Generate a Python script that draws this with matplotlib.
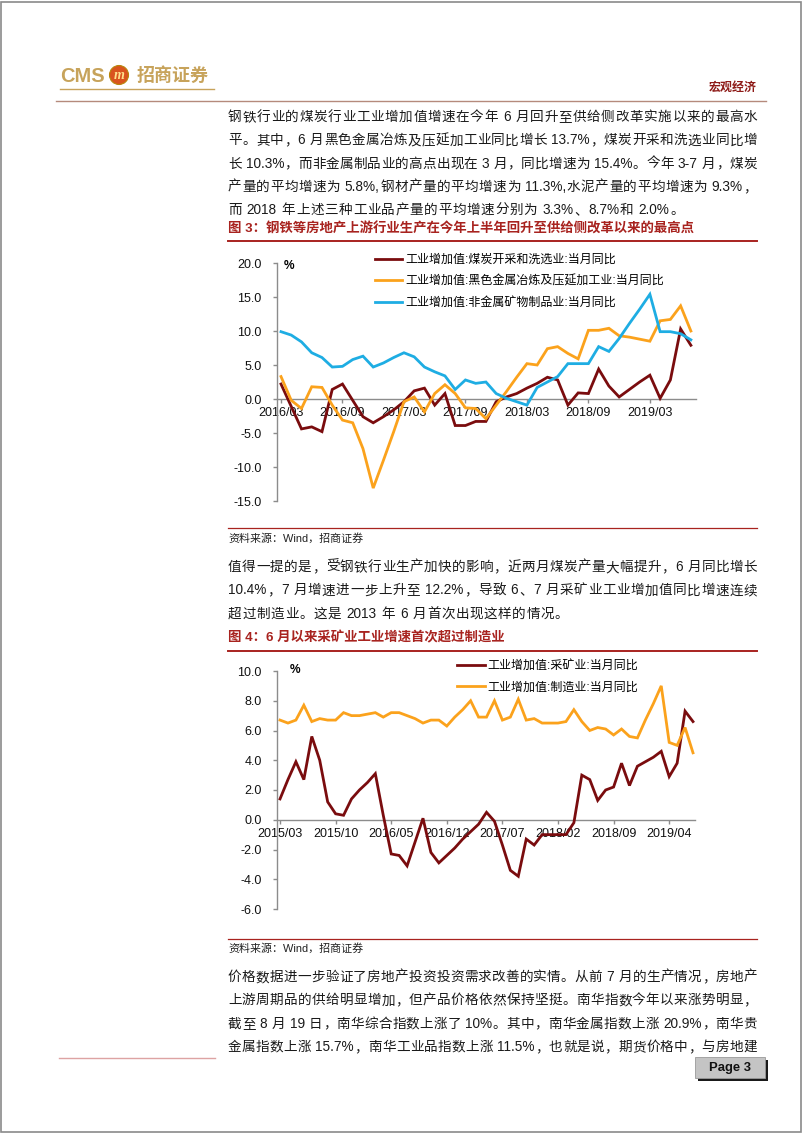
import matplotlib
matplotlib.use("Agg")
import matplotlib.pyplot as plt
from matplotlib.lines import Line2D
from matplotlib.patches import Rectangle, Ellipse

# ---- chart data ----
# Fig 3: monthly, 2016/03 .. 2019/07
fig3_xlabels = ["2016/03", "2016/09", "2017/03", "2017/09", "2018/03", "2018/09", "2019/03"]
fig3_labels = ["工业增加值:煤炭开采和洗选业:当月同比",
               "工业增加值:黑色金属冶炼及压延加工业:当月同比",
               "工业增加值:非金属矿物制品业:当月同比"]
coal = [2.2, -1.1, -4.4, -4.1, -4.8, 1.4, 2.2, -0.2, -2.6, -3.5, -2.6, -1.6, -0.4, 1.2, 1.6,
        -0.9, 0.8, -3.9, -3.9, -3.3, -3.3, -0.4, 0.3, 0.8, 1.6, 2.3, 3.2, 2.8, -0.9, 0.9,
        0.8, 4.4, 1.9, 0.3, 1.4, 2.5, 3.5, 0.1, 2.8, 10.3, 7.9]
ferrous = [3.3, -0.2, -1.4, 1.8, 1.7, -0.9, -3.1, -3.5, -7.3, -13.1, -9.0, -4.8, -0.4, 0.3, -1.9,
           0.8, 2.1, 0.8, -1.3, -1.4, -2.9, -0.9, 1.1, 3.2, 5.2, 5.0, 7.4, 7.7, 6.7, 5.9,
           10.1, 10.1, 10.4, 9.3, 9.1, 8.8, 8.5, 11.5, 11.7, 13.7, 10.0]
nonmetal = [9.9, 9.4, 8.4, 6.8, 6.1, 4.7, 4.8, 5.8, 6.3, 4.7, 5.3, 6.1, 6.8, 6.2, 4.7,
            4.0, 3.4, 1.4, 2.8, 2.3, 2.5, 0.8, 0.1, -0.4, -0.9, 1.7, 2.5, 3.3, 5.2, 5.2,
            5.2, 7.7, 7.0, 8.9, 11.1, 13.2, 15.4, 9.9, 9.9, 9.6, 8.7]

# Fig 4: monthly, 2015/03 .. 2019/07
fig4_xlabels = ["2015/03", "2015/10", "2016/05", "2016/12", "2017/07", "2018/02", "2018/09", "2019/04"]
fig4_labels = ["工业增加值:采矿业:当月同比", "工业增加值:制造业:当月同比"]
mining = [1.4, 2.7, 3.9, 2.7, 5.6, 4.0, 1.2, 0.4, 0.3, 1.4,
          2.0, 2.5, 3.1, 0.3, -2.3, -2.4, -3.1, -1.5, 0.1, -2.2,
          -2.9, -2.4, -1.9, -1.3, -0.8, -0.3, 0.5, -0.1, -1.7, -3.4,
          -3.8, -1.3, -1.7, -1.0, -1.0, -1.0, -1.0, -0.2, 3.0, 2.7,
          1.3, 2.0, 2.2, 3.8, 2.3, 3.6, 3.9, 4.2, 4.6, 2.9,
          3.8, 7.3, 6.6]
manuf = [6.7, 6.5, 6.7, 7.7, 6.6, 6.8, 6.7, 6.7, 7.2, 7.0,
         7.0, 7.1, 7.2, 6.9, 7.2, 7.2, 7.0, 6.8, 6.5, 6.7,
         6.7, 6.3, 6.9, 7.4, 8.0, 6.9, 6.9, 8.0, 6.7, 6.9,
         8.1, 6.7, 6.8, 6.5, 6.5, 6.5, 6.6, 7.4, 6.6, 6.0,
         6.2, 6.1, 5.7, 6.1, 5.6, 5.5, 6.7, 7.8, 9.0, 5.2,
         5.0, 6.2, 4.5]

# ---- page text ----
para1 = ["钢铁行业的煤炭行业工业增加值增速在今年 6 月回升至供给侧改革实施以来的最高水",
         "平。其中，6 月黑色金属冶炼及压延加工业同比增长 13.7%，煤炭开采和洗选业同比增",
         "长 10.3%，而非金属制品业的高点出现在 3 月，同比增速为 15.4%。今年 3-7 月，煤炭",
         "产量的平均增速为 5.8%,钢材产量的平均增速为 11.3%,水泥产量的平均增速为 9.3%，",
         "而 2018 年上述三种工业品产量的平均增速分别为 3.3%、8.7%和 2.0%。"]
para2 = ["值得一提的是，受钢铁行业生产加快的影响，近两月煤炭产量大幅提升，6 月同比增长",
         "10.4%，7 月增速进一步上升至 12.2%，导致 6、7 月采矿业工业增加值同比增速连续",
         "超过制造业。这是 2013 年 6 月首次出现这样的情况。"]
para3 = ["价格数据进一步验证了房地产投资投资需求改善的实情。从前 7 月的生产情况，房地产",
         "上游周期品的供给明显增加，但产品价格依然保持坚挺。南华指数今年以来涨势明显，",
         "截至 8 月 19 日，南华综合指数上涨了 10%。其中，南华金属指数上涨 20.9%，南华贵",
         "金属指数上涨 15.7%，南华工业品指数上涨 11.5%，也就是说，期货价格中，与房地建"]
title3 = "图 3：钢铁等房地产上游行业生产在今年上半年回升至供给侧改革以来的最高点"
title4 = "图 4：6 月以来采矿业工业增速首次超过制造业"
source = "资料来源：Wind，招商证券"

W, H = 802, 1133
BROWN = "#7A0C0E"
ORANGE = "#FBA21C"
BLUE = "#1EADE3"
RED = "#A8231F"
GOLD = "#C7A35B"
AXIS = "#8C8C8C"
FONT = ["Liberation Sans", "Noto Sans CJK SC"]


def pt(px):
    return px * 0.72


def fx(x):
    return x / W


def fy(y):
    return 1 - y / H


def rect(x0, y0, x1, y1):
    return [x0 / W, 1 - y1 / H, (x1 - x0) / W, (y1 - y0) / H]


def hline(x0, x1, y, color, lw):
    fig.add_artist(Line2D([fx(x0), fx(x1)], [fy(y), fy(y)], transform=fig.transFigure,
                          color=color, lw=lw))


fig = plt.figure(figsize=(W / 100, H / 100), dpi=100)
fig.patch.set_facecolor("white")
renderer = fig.canvas.get_renderer()

TX0, TX1 = 228, 757


def tokens_of(s):
    out, buf = [], ""
    for ch in s:
        if ch == " ":
            if buf:
                out.append(buf)
                buf = ""
            out.append(" ")
        elif ord(ch) < 128:
            buf += ch
        else:
            if buf:
                out.append(buf)
                buf = ""
            out.append(ch)
    if buf:
        out.append(buf)
    return out


def text_line(s, y, justify=True, size=13.6, color="#1A1A1A", weight="normal", gap0=0.6):
    toks = tokens_of(s)
    arts, widths = [], []
    for t in toks:
        if t == " ":
            arts.append(None)
            widths.append(size * 0.28)
            continue
        a = fig.text(0, fy(y), t, fontsize=pt(size), family=FONT, color=color,
                     weight=weight, va="center", ha="left")
        arts.append(a)
        widths.append(a.get_window_extent(renderer).width)
    gap = (TX1 - TX0 - sum(widths)) / (len(toks) - 1) if justify else gap0
    x = TX0
    for a, w in zip(arts, widths):
        if a is not None:
            a.set_x(fx(x))
        x += w + gap


def paragraph(lines, y0, step=23.3, last_justified=False):
    for k, s in enumerate(lines):
        just = last_justified or k < len(lines) - 1
        text_line(s, y0 + k * step, justify=just)


# ---- page frame and header ----
fig.add_artist(Rectangle((1 / W, 1 / H), 1 - 2.5 / W, 1 - 2.5 / H, transform=fig.transFigure,
                         fill=False, edgecolor="#8A8A8A", lw=1.2))
fig.text(fx(60), fy(76), "CMS", fontsize=pt(20), family="Liberation Sans", weight="bold",
         color=GOLD, va="center", ha="left")
fig.add_artist(Ellipse((fx(119), fy(75)), 19 / W, 19 / H, transform=fig.transFigure,
                       facecolor="#D9541E", edgecolor="#B8860B", lw=0.8))
fig.text(fx(119), fy(75.5), "m", fontsize=pt(14), family="Liberation Serif", weight="bold",
         color="#FFE08A", va="center", ha="center", style="italic")
fig.text(fx(137), fy(76), "招商证券", fontsize=pt(18), family=FONT, weight="bold",
         color=GOLD, va="center", ha="left")
hline(60, 214, 88.5, GOLD, 1.0)
fig.text(fx(757), fy(88), "宏观经济", fontsize=pt(12), family=FONT, weight="bold",
         color="#8E1B18", va="center", ha="right")
hline(56, 766, 100.5, "#B58A7C", 1.0)

paragraph(para1, 117)

# ---- figure 3 ----
fig.text(fx(TX0), fy(229), title3, fontsize=pt(13.4), family=FONT, weight="bold",
         color=RED, va="center", ha="left")
hline(TX0, TX1, 241, RED, 1.4)

ax1 = fig.add_axes(rect(277, 263, 696, 501))
x1 = list(range(len(coal)))
for ys, c, lab in zip([coal, ferrous, nonmetal], [BROWN, ORANGE, BLUE], fig3_labels):
    ax1.plot(x1, ys, color=c, lw=2.0, label=lab, zorder=3, solid_joinstyle="miter")
ax1.set_xlim(-0.39, 40.5)
ax1.set_ylim(-15, 20)
yt1 = [-15, -10, -5, 0, 5, 10, 15, 20]
ax1.set_yticks(yt1)
ax1.set_yticklabels([f"{v:.1f}" for v in yt1])
ax1.set_xticks([0, 6, 12, 18, 24, 30, 36])
ax1.set_xticklabels(fig3_xlabels)
ax1.legend(loc="upper left", bbox_to_anchor=(fx(375), fy(254)), bbox_transform=fig.transFigure,
           frameon=False, borderpad=0, borderaxespad=0, handlelength=2.25, handletextpad=0.25,
           labelspacing=0.78, prop={"family": FONT, "size": pt(12)})
fig.text(fx(284), fy(266), "%", fontsize=pt(12), family="Liberation Sans", weight="bold",
         va="center", ha="left")

hline(TX0, TX1, 528, RED, 0.9)
fig.text(fx(TX0), fy(538), source, fontsize=pt(11), family=FONT, color="#222222",
         va="center", ha="left")

paragraph(para2, 567)

# ---- figure 4 ----
fig.text(fx(TX0), fy(638), title4, fontsize=pt(13.4), family=FONT, weight="bold",
         color=RED, va="center", ha="left")
hline(TX0, TX1, 651, RED, 1.4)

ax2 = fig.add_axes(rect(277, 671, 695, 909))
x2 = list(range(len(mining)))
for ys, c, lab in zip([mining, manuf], [BROWN, ORANGE], fig4_labels):
    ax2.plot(x2, ys, color=c, lw=2.0, label=lab, zorder=3, solid_joinstyle="miter")
ax2.set_xlim(-0.38, 52.25)
ax2.set_ylim(-6, 10)
yt2 = [-6, -4, -2, 0, 2, 4, 6, 8, 10]
ax2.set_yticks(yt2)
ax2.set_yticklabels([f"{v:.1f}" for v in yt2])
ax2.set_xticks([0, 7, 14, 21, 28, 35, 42, 49])
ax2.set_xticklabels(fig4_xlabels)
ax2.legend(loc="upper left", bbox_to_anchor=(fx(457), fy(660)), bbox_transform=fig.transFigure,
           frameon=False, borderpad=0, borderaxespad=0, handlelength=2.3, handletextpad=0.2,
           labelspacing=0.78, prop={"family": FONT, "size": pt(12)})
fig.text(fx(290), fy(670), "%", fontsize=pt(12), family="Liberation Sans", weight="bold",
         va="center", ha="left")

for ax in (ax1, ax2):
    ax.set_facecolor("none")
    for side in ("top", "right"):
        ax.spines[side].set_visible(False)
    ax.spines["bottom"].set_position(("data", 0))
    for side in ("left", "bottom"):
        ax.spines[side].set_color(AXIS)
        ax.spines[side].set_linewidth(1.0)
    ax.tick_params(axis="y", direction="out", length=3, width=1, color=AXIS, pad=8,
                   labelsize=pt(12.5), labelcolor="#111111")
    ax.tick_params(axis="x", direction="out", length=3, width=1, color=AXIS, pad=3,
                   labelsize=pt(12.5), labelcolor="#111111")
    for lab in ax.get_xticklabels() + ax.get_yticklabels():
        lab.set_family("Liberation Sans")

hline(TX0, TX1, 939, RED, 0.9)
fig.text(fx(TX0), fy(948), source, fontsize=pt(11), family=FONT, color="#222222",
         va="center", ha="left")

paragraph(para3, 977, last_justified=True)

# ---- footer ----
hline(59, 215, 1057.5, "#DDA3A3", 1.0)
fig.add_artist(Rectangle((fx(698), fy(1081)), 70 / W, 21 / H, transform=fig.transFigure,
                         facecolor="#1A1A1A", edgecolor="none"))
fig.add_artist(Rectangle((fx(695), fy(1078)), 70 / W, 21 / H, transform=fig.transFigure,
                         facecolor="#C4C4C4", edgecolor="#9A9A9A", lw=0.6))
fig.text(fx(730), fy(1068), "Page 3", fontsize=pt(13), family="Liberation Sans", weight="bold",
         color="#111111", va="center", ha="center")

fig.savefig("out.png", dpi=100)
